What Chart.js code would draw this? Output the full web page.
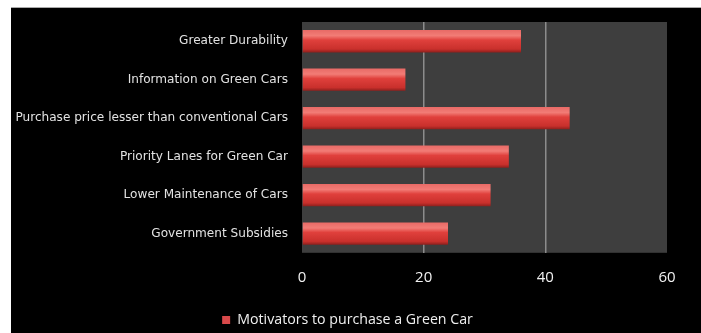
<!DOCTYPE html>
<html>
<head>
<meta charset="utf-8">
<script src="https://cdn.jsdelivr.net/npm/chart.js@4"></script>
<style>
  html, body { margin: 0; padding: 0; background: #fff; }
  #frame { position: absolute; left: 11px; top: 7px; width: 690px; height: 326px; background: #000; border-top: 1px solid #aaa; }
</style>
</head>
<body>
<div id="frame"><canvas id="myChart" width="690" height="326"></canvas></div>
<script>
const categories = [
    'Greater Durability',
    'Information on Green Cars',
    'Purchase price lesser than conventional Cars',
    'Priority Lanes for Green Car',
    'Lower Maintenance of Cars',
    'Government Subsidies'
];
const motivators = [36, 17, 44, 34, 31, 24];
const xTicks = [0, 20, 40, 60];
const seriesName = 'Motivators to purchase a Green Car';

const barPct = 0.58;

// gris del área de trazado
const plotBg = {
    id: 'plotBg',
    beforeDraw(chart) {
        const { ctx, chartArea: a } = chart;
        ctx.save();
        ctx.fillStyle = '#3e3e3e';
        ctx.fillRect(a.left, a.top, a.right - a.left, a.bottom - a.top);
        ctx.restore();
    }
};

// degradado vertical en cada barra
function barFill(context) {
    const chart = context.chart;
    const y = chart.scales.y;
    if (!chart.chartArea || !y || context.dataIndex === undefined) return '#d63b3b';
    const band = (y.bottom - y.top) / categories.length;
    const c = y.getPixelForValue(context.dataIndex);
    const h = band * barPct;
    const g = chart.ctx.createLinearGradient(0, c - h / 2, 0, c + h / 2);
    g.addColorStop(0, '#e86a66');
    g.addColorStop(0.25, '#f27c76');
    g.addColorStop(0.45, '#e0403c');
    g.addColorStop(0.85, '#c9302c');
    g.addColorStop(1, '#8e1f1c');
    return g;
}

const ctx = document.getElementById('myChart').getContext('2d');
new Chart(ctx, {
    type: 'bar',
    data: {
        labels: categories,
        datasets: [{
            label: seriesName,
            data: motivators,
            backgroundColor: barFill,
            borderWidth: 0,
            barPercentage: barPct,
            categoryPercentage: 1
        }]
    },
    options: {
        indexAxis: 'y',
        responsive: false,
        animation: false,
        layout: { padding: { top: 14, right: 17, left: 0, bottom: -3 } },
        scales: {
            x: {
                min: 0,
                max: 60,
                afterBuildTicks(scale) {
                    scale.ticks = xTicks.map(v => ({ value: v }));
                },
                afterFit(scale) { scale.height = 52; },
                grid: {
                    color: c => (c.tick && (c.tick.value === 20 || c.tick.value === 40)) ? '#8c8c8c' : 'rgba(0,0,0,0)',
                    lineWidth: 1.5,
                    drawTicks: false
                },
                border: { display: false },
                ticks: {
                    color: '#f2f2f2',
                    padding: 16,
                    font: { family: 'Open Sans', size: 15 }
                }
            },
            y: {
                afterFit(scale) {
                    scale.width = 291;
                    // sin margen extra arriba/abajo por las etiquetas
                    scale.paddingTop = 0;
                    scale.paddingBottom = 0;
                },
                grid: { display: false, drawTicks: false },
                border: { display: false },
                ticks: {
                    color: '#e2e2e2',
                    padding: 14,
                    font: { family: 'DejaVu Sans', size: 12.1 }
                }
            },
            // eje vacío a la derecha: deja el hueco tras el 60
            yRight: {
                type: 'linear',
                position: 'right',
                afterFit(scale) {
                    scale.width = 17;
                    scale.paddingTop = 0;
                    scale.paddingBottom = 0;
                },
                ticks: { display: false },
                grid: { display: false, drawTicks: false },
                border: { display: false }
            }
        },
        plugins: {
            legend: {
                position: 'bottom',
                labels: {
                    color: '#f0f0f0',
                    boxWidth: 8,
                    boxHeight: 8,
                    padding: 8,
                    font: { family: 'Open Sans', size: 14.2 },
                    generateLabels(chart) {
                        const items = Chart.defaults.plugins.legend.labels.generateLabels(chart);
                        items.forEach(it => { it.fillStyle = '#d9494a'; it.strokeStyle = '#d9494a'; it.lineWidth = 0; });
                        return items;
                    }
                }
            },
            tooltip: { enabled: false }
        }
    },
    plugins: [plotBg]
});
</script>
</body>
</html>
